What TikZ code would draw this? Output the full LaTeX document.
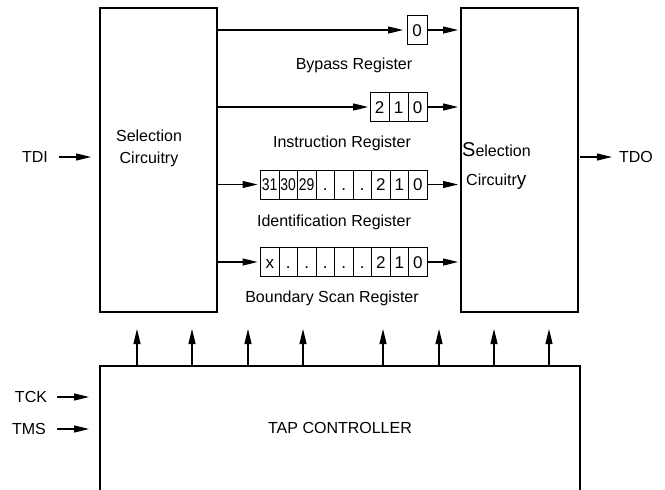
\documentclass[tikz,border=0pt]{standalone}
\usepackage{fontspec}
\setmainfont{Liberation Sans}
\usetikzlibrary{arrows.meta}
\begin{document}
\begin{tikzpicture}[x=1pt,y=-1pt,
  every node/.style={font=\fontsize{16}{22}\selectfont, inner sep=0pt},
  blk/.style={draw, line width=1.2pt, minimum width=117pt, minimum height=304pt, outer sep=0pt},
  cell/.style={draw, line width=1pt, minimum width=18.5pt, minimum height=29pt, outer sep=0pt,
    text height=12.2pt, text depth=0pt, font=\fontsize{17}{20}\selectfont},
  arr/.style={line width=1.2pt, -{Triangle[length=15pt,width=7pt]}},
  edge/.style={line width=1.2pt}
]
\useasboundingbox (0,0) rectangle (665,490);

% selection circuitry blocks
\node[blk] (selL) at (158.5,160) {};
\node[blk] (selR) at (519.5,160) {};
\node[align=center] (selLtxt) at (149,148) {Selection\\Circuitry};
\node[align=left, anchor=west, font=\fontsize{16}{29}\selectfont] (selRtxt) at (462,166)
  {{\fontsize{20}{29}\selectfont S}election\\\hspace*{4pt}Circuitr{\fontsize{19}{29}\selectfont y}};

% TAP controller (open at the bottom)
\node[minimum width=480pt, minimum height=124pt, outer sep=0pt] (tap) at (340,428) {TAP CONTROLLER};
\draw[edge] (tap.south west) -- (tap.north west) -- (tap.north east) -- (tap.south east);

% Bypass register
\node[cell, minimum width=20pt] (b0) at (417,30) {0};
\node (bypl) at (354,65) {Bypass Register};

% Instruction register
\node[cell, minimum width=19pt] (ir2) at (379.5,107) {2};
\node[cell, minimum width=19pt] (ir1) at (398.5,107) {1};
\node[cell, minimum width=19pt] (ir0) at (417.5,107) {0};
\node (irl) at (342,143) {Instruction Register};

% Identification register
\foreach \t [count=\k] in {{\scalebox{0.82}[1]{31}},{\scalebox{0.82}[1]{30}},{\scalebox{0.82}[1]{29}},{.},{.},{.},2,1,0}
  \node[cell] (id\k) at ({260.5+18.5*(\k-0.5)},184.5) {\t};
\node (idl) at (334,222) {Identification Register};

% Boundary scan register
\foreach \t [count=\k] in {x,{.},{.},{.},{.},{.},2,1,0}
  \node[cell] (bs\k) at ({260.5+18.5*(\k-0.5)},262) {\t};
\node (bsl) at (332,298) {Boundary Scan Register};

% register connectors
\draw[arr, shorten >=4pt] (selL.east |- b0.west) -- (b0.west);
\draw[arr, shorten >=3pt] (b0.east) -- (selR.west |- b0.east);
\draw[arr, shorten >=2pt] (selL.east |- ir2.west) -- (ir2.west);
\draw[arr, shorten >=3pt] (ir0.east) -- (selR.west |- ir0.east);
\draw[arr, shorten >=3pt] (selL.east |- id1.west) -- (id1.west);
\draw[arr, shorten >=3pt] (id9.east) -- (selR.west |- id9.east);
\draw[arr, shorten >=3pt] (selL.east |- bs1.west) -- (bs1.west);
\draw[arr, shorten >=3pt] (bs9.east) -- (selR.west |- bs9.east);

% external signals
\node (tdi) at (35,157) {TDI};
\draw[arr, shorten <=11pt, shorten >=9pt] (tdi.east) -- (selL.west |- tdi.east);
\node (tdo) at (636,157) {TDO};
\draw[arr, shorten <=2pt, shorten >=7pt] (selR.east |- tdo.west) -- (tdo.west);
\node (tck) at (31,397) {TCK};
\draw[arr, shorten <=10pt, shorten >=11pt] (tck.east) -- (tap.west |- tck.east);
\node (tms) at (29,429) {TMS};
\draw[arr, shorten <=11pt, shorten >=11pt] (tms.east) -- (tap.west |- tms.east);

% control arrows from TAP controller
\foreach \x in {137,192,248,303,383,439,494,549}
  \draw[arr, shorten >=17pt] (\x,0 |- tap.north) -- (\x,0 |- selL.south);
\end{tikzpicture}
\end{document}
